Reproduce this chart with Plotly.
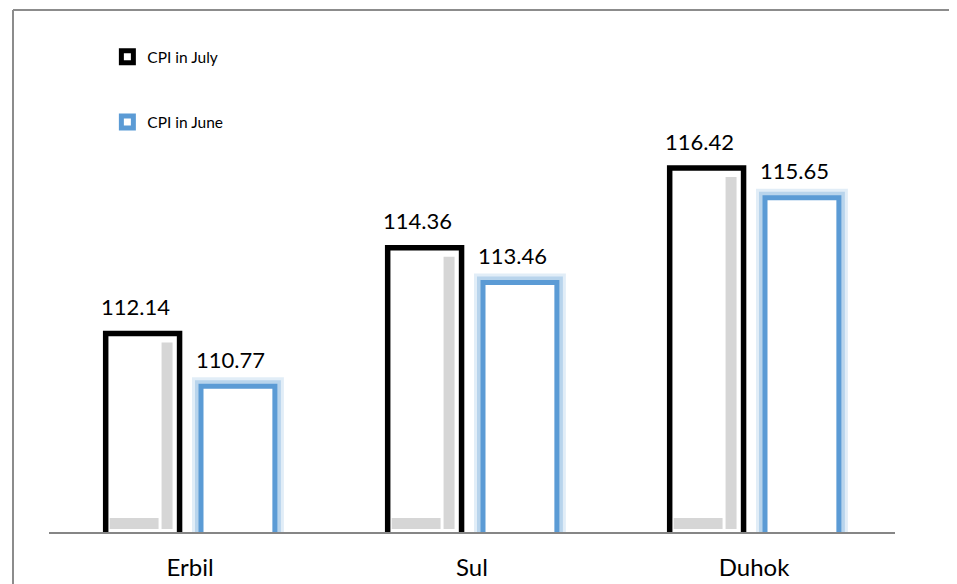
import plotly.graph_objects as go

categories = ["Erbil", "Sul", "Duhok"]
cpi_july = [112.14, 114.36, 116.42]
cpi_june = [110.77, 113.46, 115.65]
series_names = ["CPI in July", "CPI in June"]

Y_MIN, Y_MAX = 107, 118
FONT = "Lato"
BLUE = "#5B9BD5"

# layout constants (category units)
BAR_W = 0.262
JUL_OFF = -0.299
JUN_OFF = 0.039
PX_PER_UNIT = 38.6
CAT_PX = 282

fig = go.Figure()

# July bars (white with black outline)
fig.add_trace(go.Bar(
    x=categories, y=cpi_july, name=series_names[0], legendgroup="jul",
    width=BAR_W, offset=JUL_OFF,
    marker=dict(color="white", line=dict(color="black", width=5.5)),
))
# bevel: right strip
strip_w = 11 / CAT_PX
strip_top = 9 / PX_PER_UNIT
fig.add_trace(go.Bar(
    x=categories, y=[v - strip_top - (Y_MIN + 0.08) for v in cpi_july], base=Y_MIN + 0.08,
    width=strip_w, offset=JUL_OFF + BAR_W - 7 / CAT_PX - strip_w,
    marker=dict(color="#d6d6d6", line=dict(width=0)), showlegend=False, hoverinfo="skip",
))
# bevel: bottom strip
fig.add_trace(go.Bar(
    x=categories, y=[11 / PX_PER_UNIT] * len(categories), base=Y_MIN + 0.08,
    width=BAR_W - 14 / CAT_PX - strip_w, offset=JUL_OFF + 4 / CAT_PX,
    marker=dict(color="#d6d6d6", line=dict(width=0)), showlegend=False, hoverinfo="skip",
))

# June glow layers
for w, a in [(18, 0.18), (12, 0.3)]:
    fig.add_trace(go.Bar(
        x=categories, y=cpi_june, width=BAR_W, offset=JUN_OFF,
        marker=dict(color="white", line=dict(color=f"rgba(91,155,213,{a})", width=w)),
        showlegend=False, hoverinfo="skip",
    ))
# June bars (white with blue outline)
fig.add_trace(go.Bar(
    x=categories, y=cpi_june, name=series_names[1], legendgroup="jun",
    width=BAR_W, offset=JUN_OFF,
    marker=dict(color="white", line=dict(color=BLUE, width=5)),
))

# value labels
annotations = []
for vals, off in [(cpi_july, JUL_OFF), (cpi_june, JUN_OFF)]:
    for i, v in enumerate(vals):
        annotations.append(dict(
            x=i + off + BAR_W / 2, y=v, xref="x", yref="y",
            text=f"{v:.2f}", showarrow=False, xanchor="center", yanchor="middle",
            xshift=-7, yshift=27,
            font=dict(family=FONT, size=22, color="black"),
        ))

border_x = -36 / 846
border_y = 522 / 425
border_line = dict(color="#8c8c8c", width=2)

fig.update_layout(
    width=949, height=576,
    margin=dict(l=41, r=62, t=99, b=52, autoexpand=False),
    barmode="overlay",
    paper_bgcolor="white", plot_bgcolor="white",
    font=dict(family=FONT, color="black"),
    showlegend=True,
    legend=dict(x=0.069, y=1.157, xanchor="left", yanchor="top",
                traceorder="grouped", tracegroupgap=42,
                font=dict(family=FONT, size=15.5, color="black"),
                bgcolor="rgba(0,0,0,0)"),
    xaxis=dict(showline=True, linecolor="#868686", linewidth=1.5, ticks="",
               showgrid=False, tickfont=dict(family=FONT, size=24, color="black"),
               ticklabelstandoff=13, range=[-0.5, 2.5], automargin=False),
    yaxis=dict(visible=False, range=[Y_MIN, Y_MAX], showgrid=False, automargin=False),
    shapes=[
        dict(type="line", xref="paper", yref="paper",
             x0=border_x, x1=1.3, y0=border_y, y1=border_y, line=border_line, layer="below"),
        dict(type="line", xref="paper", yref="paper",
             x0=border_x, x1=border_x, y0=border_y, y1=-0.3, line=border_line, layer="below"),
    ],
    annotations=annotations,
    hovermode=False,
)

fig.write_html("out.html")
